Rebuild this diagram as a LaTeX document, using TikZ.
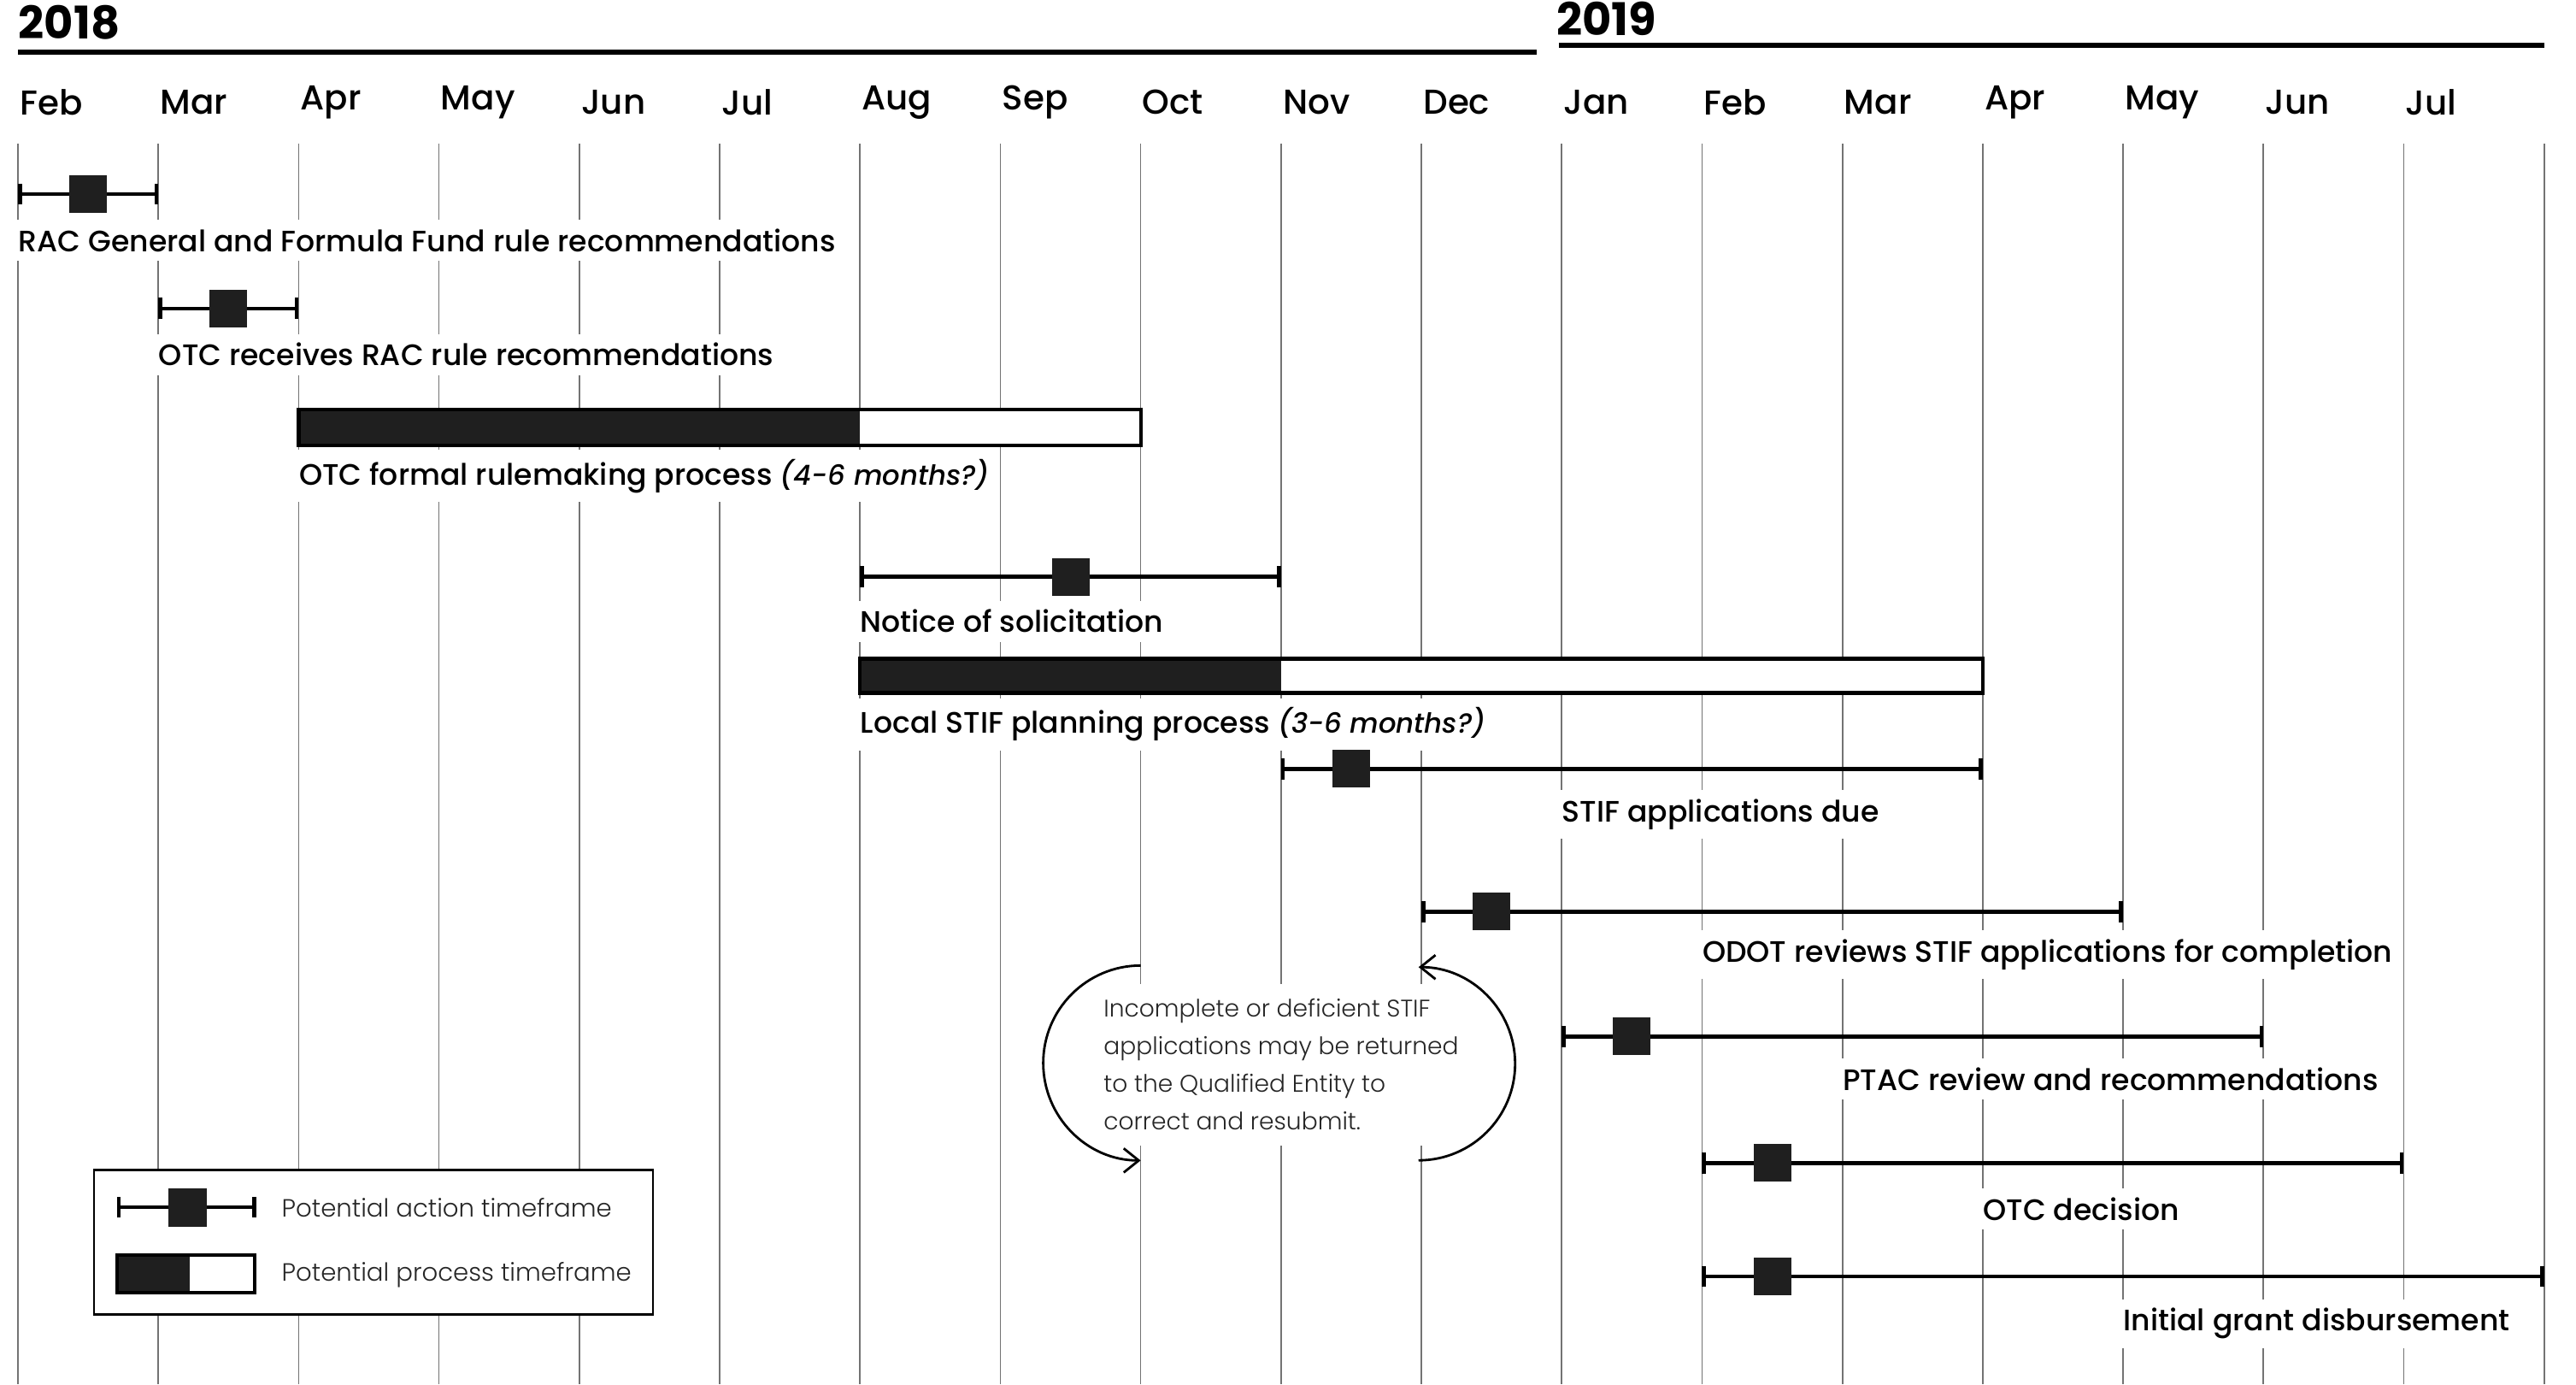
\documentclass[tikz,border=0pt]{standalone}
\usepackage{fontspec}
\setmainfont{Poppins}
\IfFontExistsTF{Poppins Medium}{\newfontfamily\medfont{Poppins Medium}}{\newfontfamily\medfont{Poppins}}
\IfFontExistsTF{Poppins Light}{\newfontfamily\lightfont{Poppins Light}}{\newfontfamily\lightfont{Poppins}}
\usetikzlibrary{arrows.meta,calc}
\tikzset{>={Straight Barb[length=5pt,width=8pt]}}
\tikzset{
  monthline/.style={black!55,line width=0.5pt},
  yearrule/.style={line width=1.8pt},
  yearlabel/.style={anchor=west,inner sep=0pt,font=\fontsize{15}{16}\bfseries},
  monthlabel/.style={anchor=west,inner sep=0pt,font=\fontsize{11.5}{13}\medfont},
  actionline/.style={line width=1.3pt,{Bar[width=7pt]}-{Bar[width=7pt]}},
  marker/.style={fill=black!88,minimum size=0.44cm,inner sep=0pt},
  procbar/.style={draw,line width=1.2pt,fill=white},
  procfill/.style={fill=black!88},
  tasklabel/.style={anchor=west,fill=white,inner xsep=2pt,inner ysep=3pt,xshift=-2pt,font=\fontsize{9.85}{12}\medfont},
  notetext/.style={anchor=west,fill=white,align=left,inner xsep=2pt,inner ysep=5pt,font=\fontsize{8}{12.5}\lightfont\color{black!85}},
  loopline/.style={->,line width=0.8pt},
  legendtext/.style={anchor=west,inner sep=0pt,font=\fontsize{8.3}{10}\lightfont\color{black!85}}
}
\newcommand{\guess}[1]{{\fontsize{9.2}{12}\itshape #1}}

\begin{document}
\begin{tikzpicture}[x=1.642cm,y=-0.01cm]
  \useasboundingbox (-0.21cm,0cm) rectangle (29.93cm,-16.2cm);

  % Month lines
  \foreach \i in {0,...,18}
    \draw[monthline] (\i,168) -- (\i,1620);

  % Years
  \node[yearlabel] (y2018) at (0,26) {2018};
  \node[yearlabel] (y2019) at (10.96,22) {2019};
  \draw[yearrule] (0,61) -- (10.82,61);
  \draw[yearrule] (10.98,53) -- (18,53);

  % Months
  \foreach \m [count=\i from 0] in {Feb,Mar,Apr,May,Jun,Jul,Aug,Sep,Oct,Nov,Dec,Jan,Feb,Mar,Apr,May,Jun,Jul}
    \node[monthlabel] (m\i) at (\i+0.01,120) {\m};

  % RAC recommendations
  \draw[actionline] (0,227) -- (1,227);
  \node[marker] (sq1) at (0.5,227) {};
  \node[tasklabel] (t1) at (0,281) {RAC General and Formula Fund rule recommendations};

  % OTC receives
  \draw[actionline] (1,361) -- (2,361);
  \node[marker] (sq2) at (1.5,361) {};
  \node[tasklabel] (t2) at (1,415) {OTC receives RAC rule recommendations};

  % OTC rulemaking
  \draw[procbar] (2,479) rectangle (8,521);
  \fill[procfill] (2,479) rectangle (6,521);
  \draw[line width=1.2pt] (2,479) rectangle (8,521);
  \node[tasklabel] (t3) at (2,557) {OTC formal rulemaking process \guess{(4-6 months?)}};

  % Notice of solicitation
  \draw[actionline] (6,675) -- (9,675);
  \node[marker] (sq4) at (7.5,675) {};
  \node[tasklabel] (t4) at (6,727) {Notice of solicitation};

  % Local STIF planning
  \draw[procbar] (6,771) rectangle (14,811);
  \fill[procfill] (6,771) rectangle (9,811);
  \draw[line width=1.2pt] (6,771) rectangle (14,811);
  \node[tasklabel] (t5) at (6,848) {Local STIF planning process \guess{(3-6 months?)}};

  % STIF applications due
  \draw[actionline] (9,900) -- (14,900);
  \node[marker] (sq6) at (9.5,900) {};
  \node[tasklabel] (t6) at (11,953) {STIF applications due};

  % ODOT reviews
  \draw[actionline] (10,1067) -- (15,1067);
  \node[marker] (sq7) at (10.5,1067) {};
  \node[tasklabel] (t7) at (12,1117) {ODOT reviews STIF applications for completion};

  % PTAC review
  \draw[actionline] (11,1213) -- (16,1213);
  \node[marker] (sq8) at (11.5,1213) {};
  \node[tasklabel] (t8) at (13,1263) {PTAC review and recommendations};

  % OTC decision
  \draw[actionline] (12,1361) -- (17,1361);
  \node[marker] (sq9) at (12.5,1361) {};
  \node[tasklabel] (t9) at (14,1415) {OTC decision};

  % Disbursement
  \draw[actionline] (12,1494) -- (18,1494);
  \node[marker] (sq10) at (12.5,1494) {};
  \node[tasklabel] (t10) at (15,1549) {Initial grant disbursement};

  % Resubmit loop
  \node[notetext] (note) at (7.69,1246) {Incomplete or deficient STIF\\applications may be returned\\to the Qualified Entity to\\correct and resubmit.};
  \draw[loopline] (8,1130) arc[start angle=90,end angle=270,radius=1.14cm];
  \draw[loopline] (9.98,1358) arc[start angle=-90,end angle=90,radius=1.13cm];

  % Legend
  \draw[line width=0.8pt,fill=white] (0.542,1369) rectangle (4.525,1538);
  \draw[actionline] (0.706,1413) -- (1.699,1413);
  \node[marker,minimum size=0.45cm] (lsq) at (1.209,1413) {};
  \node[legendtext] (l1) at (1.876,1413) {Potential action timeframe};
  \fill[procfill] (0.706,1469) rectangle (1.224,1513);
  \draw[line width=1.2pt] (0.706,1469) rectangle (1.687,1513);
  \node[legendtext] (l2) at (1.876,1492) {Potential process timeframe};
\end{tikzpicture}
\end{document}
